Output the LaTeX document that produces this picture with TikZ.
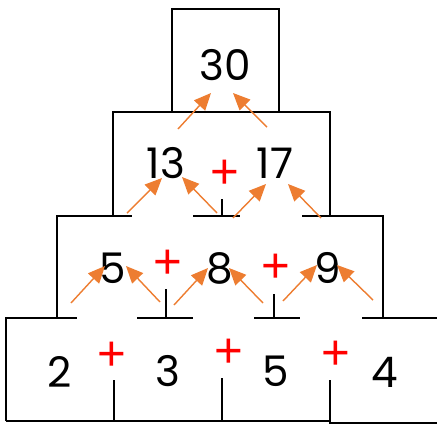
\documentclass[tikz,border=0pt]{standalone}
\usepackage{fontspec}
\setmainfont{Poppins}
\newfontfamily\plusfont{Liberation Sans}
\usepackage{xcolor}
\definecolor{pyrorange}{HTML}{ED7D31}
\usetikzlibrary{arrows.meta}

\begin{document}
\begin{tikzpicture}[
  x=0.02cm, y=-0.02cm,
  wall/.style={line width=1.4pt, black},
  num/.style={font=\fontsize{24}{30}\selectfont, inner sep=0pt, anchor=center},
  plus/.style={font=\plusfont\fontsize{28}{30}\selectfont, text=red, inner sep=0pt, anchor=center},
  arr/.style={-{Triangle[length=3.4mm, width=3mm]}, line width=0.8pt, pyrorange},
]
\useasboundingbox (0,0) rectangle (437,424);
% ---------------- walls of the pyramid (row by row, top down)
\draw[wall] (172,112) -- (172,9) -- (279,9) -- (279,112);
\draw[wall] (113,216) -- (113,112) -- (330,112) -- (330,216);
\draw[wall] (57,318) -- (57,216) -- (132,216);
\draw[wall] (193,216) -- (240,216);
\draw[wall] (222,199) -- (222,216);
\draw[wall] (302,216) -- (383,216) -- (383,318);
\draw[wall] (6,421) -- (6,318) -- (77,318);
\draw[wall] (137,318) -- (193,318);
\draw[wall] (166,289) -- (166,318);
\draw[wall] (254,318) -- (300,318);
\draw[wall] (274,294) -- (274,318);
\draw[wall] (362,318) -- (437,318);
% ---------------- bottom row floor
\draw[wall] (6,421) -- (330,421);
\draw[wall] (330,380) -- (330,423) -- (437,423);
\draw[wall] (114,380) -- (114,421);
\draw[wall] (222,378) -- (222,421);
% ---------------- numbers
\node[num] (n30) at (225,65) {30};
\node[num] (n13) at (166,163) {13};
\node[num] (n17) at (275,163) {17};
\node[num] (n5a) at (113,268) {5};
\node[num] (n8) at (220,268) {8};
\node[num] (n9) at (328,268) {9};
\node[num] (n2) at (60,372) {2};
\node[num] (n3) at (168,371) {3};
\node[num] (n5b) at (276,371) {5};
\node[num] (n4) at (385,372) {4};
% ---------------- plus signs
\node[plus] (p1) at (225,174) {+};
\node[plus] (p2) at (168,264) {+};
\node[plus] (p3) at (276,268) {+};
\node[plus] (p4) at (112,356) {+};
\node[plus] (p5) at (229,353) {+};
\node[plus] (p6) at (336,355) {+};
% ---------------- arrows (tail -> head)
\foreach \i/\tx/\ty/\hx/\hy in {
  1/178/129/211/93, 2/267/127/233/93,
  3/127/213/162/178, 4/217/213/182/177, 5/233/218/266/184, 6/321/218/288/184,
  7/71/303/105/266, 8/160/302/126/266, 9/174/305/208/268,
  10/263/303/229/268, 11/283/301/317/265, 12/373/300/337/265} {
  \coordinate (t\i) at (\tx,\ty);
  \coordinate (h\i) at (\hx,\hy);
  \draw[arr] (t\i) -- (h\i);
}
\end{tikzpicture}
\end{document}
